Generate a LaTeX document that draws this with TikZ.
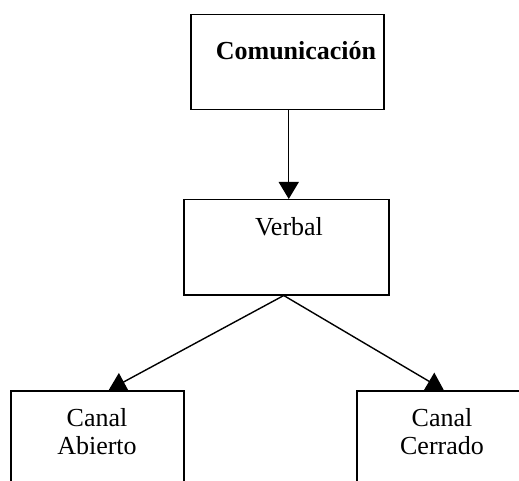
\documentclass[tikz,border=0pt]{standalone}
\usepackage{fontspec}
\setmainfont{Liberation Serif}
\usetikzlibrary{arrows.meta}
\begin{document}
\begin{tikzpicture}[x=1pt,y=-1pt,
  box/.style={draw,line width=1.5pt,inner sep=0pt,anchor=north west},
  conn/.style={line width=1.4pt,-{Triangle[length=17pt,width=20pt]}},
  txt/.style={anchor=base,inner sep=0pt,font=\fontsize{26}{28}\selectfont}]
\useasboundingbox (0,0) rectangle (519,481);
\clip (0,0) rectangle (519,481);
\node[box,minimum width=193pt,minimum height=95pt] (com) at (190,14) {};
\node[box,minimum width=205pt,minimum height=95pt] (verb) at (183,199) {};
\node[box,minimum width=173pt,minimum height=110pt] (abi) at (10,390) {};
\node[box,minimum width=180pt,minimum height=110pt] (cer) at (356,390) {};
\node[txt,font=\fontsize{26}{28}\selectfont\bfseries] (tcom) at (296,60) {Comunicación};
\node[txt] (tverb) at (289,235) {Verbal};
\node[txt] (tabi1) at (97,426) {Canal};
\node[txt] (tabi2) at (97,454) {Abierto};
\node[txt] (tcer1) at (442,426) {Canal};
\node[txt] (tcer2) at (442,454) {Cerrado};
\draw[conn] ([xshift=1.5pt]com.south) -- ([xshift=2.5pt]verb.north);
\draw[conn] ([xshift=-2.5pt]verb.south) -- ([xshift=11.5pt]abi.north);
\draw[conn] ([xshift=-2.5pt]verb.south) -- ([xshift=-3pt]cer.north);
\end{tikzpicture}
\end{document}
